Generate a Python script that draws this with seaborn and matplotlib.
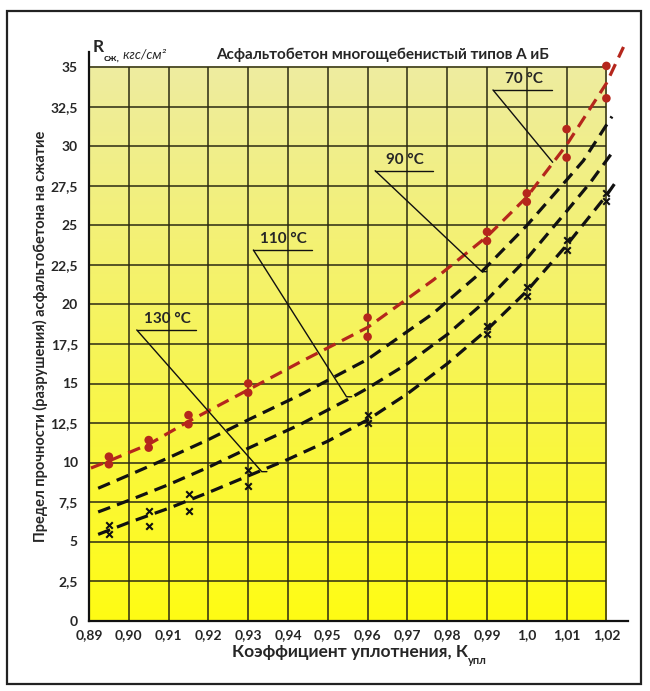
import numpy as np
import pandas as pd
import matplotlib
matplotlib.use("Agg")
import matplotlib.pyplot as plt
from matplotlib.patches import Rectangle
import seaborn as sns

# ---------------- data ----------------
x_ticks = [0.89, 0.90, 0.91, 0.92, 0.93, 0.94, 0.95, 0.96, 0.97, 0.98, 0.99, 1.00, 1.01, 1.02]
x_tick_labels = ["0,89", "0,90", "0,91", "0,92", "0,93", "0,94", "0,95", "0,96",
                 "0,97", "0,98", "0,99", "1,0", "1,01", "1,02"]
y_ticks = [0, 2.5, 5, 7.5, 10, 12.5, 15, 17.5, 20, 22.5, 25, 27.5, 30, 32.5, 35]
y_tick_labels = ["0", "2,5", "5", "7,5", "10", "12,5", "15", "17,5", "20",
                 "22,5", "25", "27,5", "30", "32,5", "35"]

# measured points (two per compaction value)
k_pts = [0.895, 0.905, 0.915, 0.93, 0.96, 0.99, 1.00, 1.01, 1.02]
red_hi = [10.37, 11.42, 13.0, 15.0, 19.17, 24.6, 27.04, 31.1, 35.1]
red_lo = [9.89, 10.94, 12.42, 14.42, 17.96, 24.02, 26.5, 29.3, 33.05]
cross_hi = [6.04, 6.93, 7.99, 9.53, 13.0, 18.64, 21.09, 24.08, 27.08]
cross_lo = [5.46, 5.98, 6.95, 8.51, 12.5, 18.13, 20.54, 23.45, 26.57]

# curves
c70_k = [0.8905, 0.895, 0.905, 0.915, 0.93, 0.943, 0.96, 0.9765, 0.99, 1.0, 1.01, 1.02, 1.0243]
c70_v = [9.65, 10.1, 11.15, 12.6, 14.6, 16.35, 18.55, 21.55, 24.3, 26.8, 30.1, 34.0, 36.3]

c90_k = [0.8923, 0.9, 0.91, 0.92, 0.93, 0.943, 0.96, 0.9765, 0.9887, 1.0, 1.01, 1.0142, 1.0214]
c90_v = [8.37, 9.2, 10.3, 11.45, 12.7, 14.27, 16.53, 19.44, 22.08, 25.0, 27.88, 29.1, 31.9]

c110_k = [0.8923, 0.9, 0.91, 0.92, 0.93, 0.943, 0.9551, 0.96, 0.97, 0.98, 0.99, 1.0, 1.01, 1.0159, 1.022]
c110_v = [6.87, 7.6, 8.6, 9.7, 10.9, 12.4, 14.0, 14.7, 16.25, 18.1, 20.3, 22.9, 25.9, 27.7, 29.8]

c130_k = [0.8923, 0.9, 0.91, 0.92, 0.93, 0.94, 0.95, 0.96, 0.97, 0.98, 0.99, 1.0, 1.01, 1.02, 1.0225]
c130_v = [5.45, 6.2, 7.1, 8.1, 9.15, 10.2, 11.35, 12.7, 14.35, 16.25, 18.4, 20.85, 23.75, 26.9, 27.8]

title = "Асфальтобетон многощебенистый типов А иБ"
ylabel = "Предел прочности (разрушения) асфальтобетона на сжатие"
xlabel = "Коэффициент уплотнения, К"

# ---------------- style ----------------
sns.set_style("white")
FONT = ["Lato", "DejaVu Sans"]
plt.rcParams["font.family"] = FONT

W, H = 650, 691
fig = plt.figure(figsize=(W / 100, H / 100), dpi=100)
fig.patch.set_facecolor("white")

# axes geometry (pixels)
ax_l, ax_r, ax_b, ax_t = 89, 628, 620.5, 51.7
ax = fig.add_axes([ax_l / W, 1 - ax_b / H, (ax_r - ax_l) / W, (ax_b - ax_t) / H])
ax.set_facecolor("none")

px_per_k = 3980.0
px_per_v = 15.8
xmax = 0.89 + (ax_r - ax_l) / px_per_k
ymax = (ax_b - ax_t) / px_per_v

# yellow gradient background
top_c = np.array([238, 236, 160]) / 255.0
bot_c = np.array([255, 252, 20]) / 255.0
t = np.linspace(0, 1, 256)[:, None]
grad = (top_c[None, :] * (1 - t) + bot_c[None, :] * t)[:, None, :]
ax.imshow(grad, extent=[0.89, 1.02, 0, 35], aspect="auto", origin="upper", zorder=0)

grid_c = "#2b2a12"
ax.vlines(x_ticks, 0, 35, color=grid_c, lw=1.1, zorder=1)
ax.hlines(y_ticks, 0.89, 1.02, color=grid_c, lw=1.1, zorder=1)

red = "#b5261c"
dash = (0, (4.0, 2.3))
for kk, vv, col in [(c130_k, c130_v, "#111111"), (c110_k, c110_v, "#111111"),
                    (c90_k, c90_v, "#111111"), (c70_k, c70_v, red)]:
    sns.lineplot(x=kk, y=vv, ax=ax, color=col, lw=2.3, linestyle=dash, sort=False,
                 zorder=4, clip_on=False)

sns.scatterplot(x=k_pts + k_pts, y=red_hi + red_lo, ax=ax, color=red, s=38,
                edgecolor="none", marker="o", zorder=5, clip_on=False)
sns.scatterplot(x=k_pts + k_pts, y=cross_hi + cross_lo, ax=ax, color="#111111", s=22,
                marker="x", linewidth=1.5, zorder=5, clip_on=False)

# leader labels
lab_kw = dict(fontsize=11, fontweight="bold", ha="center", va="bottom", zorder=6)
leaders = [
    ("70 °C", 0.9915, 1.0063, 33.58, [(0.9915, 33.58), (1.0065, 29.0)]),
    ("90 °C", 0.9619, 0.9764, 28.47, [(0.9619, 28.47), (0.9887, 22.08), (0.9899, 22.08)]),
    ("110 °C", 0.9313, 0.946, 23.45, [(0.9313, 23.45), (0.9547, 14.16), (0.956, 14.16)]),
    ("130 °C", 0.902, 0.917, 18.39, [(0.902, 18.39), (0.9334, 9.42), (0.9347, 9.42)]),
]
for txt, x0, x1, yy, path in leaders:
    ax.plot([x0, x1], [yy, yy], color="#111111", lw=1.0, zorder=6)
    px, py = zip(*path)
    ax.plot(px, py, color="#111111", lw=1.0, zorder=6)
    ax.text((x0 + x1) / 2 + 0.0003, yy + 0.25, txt, **lab_kw)

ax.set_xlim(0.89, xmax)
ax.set_ylim(0, ymax)
ax.set_xticks(x_ticks)
ax.set_xticklabels(x_tick_labels)
ax.set_yticks(y_ticks)
ax.set_yticklabels(y_tick_labels)
ax.tick_params(length=0, labelsize=10)
ax.tick_params(axis="x", pad=6)
ax.tick_params(axis="y", pad=8)
for lbl in ax.get_xticklabels() + ax.get_yticklabels():
    lbl.set_fontweight("bold")
for s in ["top", "right"]:
    ax.spines[s].set_visible(False)
for s in ["left", "bottom"]:
    ax.spines[s].set_color("#111111")
    ax.spines[s].set_linewidth(1.6)
ax.set_xlabel("")
ax.set_ylabel("")

# titles / labels
fig.text(383 / W, 1 - 55 / H, title, ha="center", va="center", fontsize=11, fontweight="bold")
fig.text(40 / W, 1 - 336 / H, ylabel, ha="center", va="center", rotation=90,
         fontsize=10.5, fontweight="bold")
xl = fig.text(350 / W, 1 - 652 / H, xlabel, ha="center", va="center", fontsize=12.5, fontweight="bold")
ax.annotate("упл", xy=(1, 0.3), xycoords=xl, va="top", ha="left", fontsize=8, fontweight="bold")

r = fig.text(93 / W, 1 - 47 / H, "R", ha="left", va="center", fontsize=12.5, fontweight="bold")
s1 = ax.annotate("сж,", xy=(1, 0.1), xycoords=r, va="top", ha="left", fontsize=7.5, fontweight="bold")
ax.annotate(" кгс/см²", xy=(1, 1.5), xycoords=s1, va="top", ha="left", fontsize=9.5, style="italic")

fig.add_artist(Rectangle((7 / W, 1 - 684 / H), (641 - 7) / W, (684 - 11) / H,
                         transform=fig.transFigure, fill=False, lw=1.6, ec="#222222"))

fig.savefig("out.png", dpi=100, facecolor="white")
